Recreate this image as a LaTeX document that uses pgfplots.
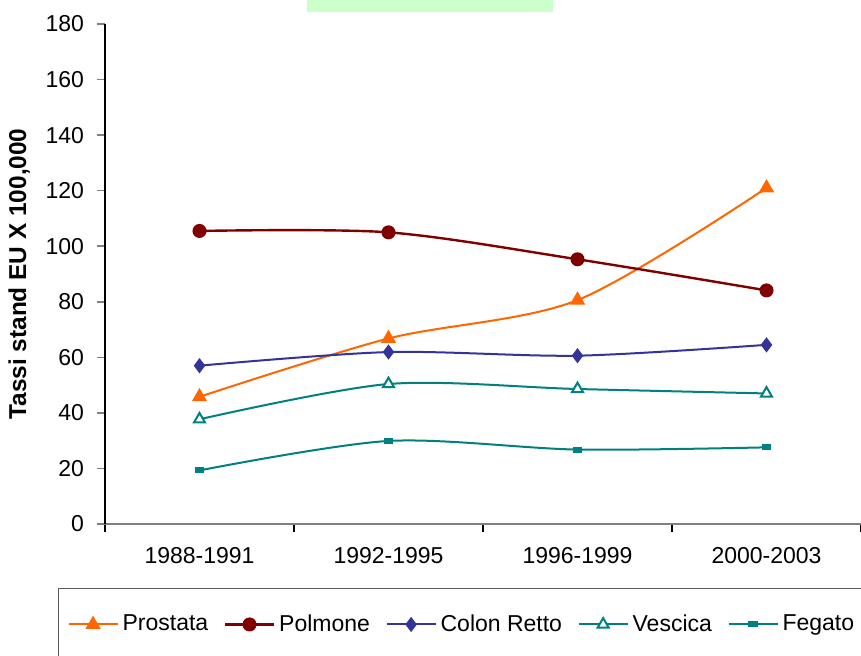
\documentclass[border=0pt]{standalone}
\usepackage{fontspec}
\setmainfont{Liberation Sans}
\usepackage{pgfplots}
\pgfplotsset{compat=1.18}

\definecolor{cProstata}{HTML}{FF6600}
\definecolor{cPolmone}{HTML}{800000}
\definecolor{cColon}{HTML}{333399}
\definecolor{cTeal}{HTML}{008080}
\definecolor{cGreen}{HTML}{CCFFCC}

\begin{document}
\begin{tikzpicture}
\begin{axis}[
    scale only axis,
    width=378pt, height=250pt,
    xmin=-0.5, xmax=3.5, ymin=0, ymax=180,
    axis x line=bottom, axis y line=left,
    axis line style={-},
    x axis line style={draw=gray, line width=1pt},
    y axis line style={draw=black, line width=0.6pt},
    xtick={-0.5,0.5,1.5,2.5,3.5},
    x tick label as interval,
    xticklabels={1988-1991,1992-1995,1996-1999,2000-2003},
    ytick={0,20,...,180},
    tick align=outside, major tick length=4pt,
    xtick style={draw=black, line width=0.6pt},
    ytick style={draw=gray, line width=0.8pt},
    every tick label/.append style={font=\fontsize{11.5}{13}\selectfont},
    /pgf/number format/assume math mode=true,
    xticklabel style={yshift=-4pt},
    yticklabel style={xshift=-3pt},
    ylabel={Tassi stand EU X 100,000},
    ylabel style={font=\fontsize{12.2}{14}\selectfont\bfseries, yshift=1pt},
    clip=false,
    legend columns=5,
    legend style={at={(-0.0622,-0.128)}, anchor=north west,
        draw=gray!70!black, line width=0.6pt,
        inner xsep=4.5pt, inner ysep=11pt,
        font=\fontsize{11.5}{13}\selectfont,
        /tikz/every even column/.append style={column sep=5.8pt}},
    legend cell align=left,
    legend image code/.code={\draw[mark repeat=2,mark phase=2] plot coordinates {(0pt,0pt) (12.25pt,0pt) (24.5pt,0pt)};},
    every axis plot/.append style={smooth, line width=1pt},
]
\fill[cGreen] ([yshift=6pt]rel axis cs:0.267,1) rectangle ([yshift=16pt]rel axis cs:0.5926,1);

\addplot[color=cProstata, mark=triangle*, mark size=3.4pt, mark options={solid}] coordinates {
    (0,45.8) (1,66.8) (2,80.6) (3,121.0)
};
\addlegendentry{Prostata}
\addplot[color=cPolmone, line width=1.2pt, mark=*, mark size=2.9pt] coordinates {
    (0,105.5) (1,105.0) (2,95.3) (3,84.1)
};
\addlegendentry{Polmone}
\addplot[color=cColon, mark=diamond*, mark size=3pt] coordinates {
    (0,57.0) (1,61.9) (2,60.6) (3,64.5)
};
\addlegendentry{Colon Retto}
\addplot[color=cTeal, mark=triangle*, mark size=3.2pt, mark options={fill=white, line width=1pt}] coordinates {
    (0,37.7) (1,50.4) (2,48.6) (3,47.0)
};
\addlegendentry{Vescica}
\addplot[color=cTeal, mark=square*, mark size=1.1pt, mark options={xscale=1.8, yscale=0.9}] coordinates {
    (0,19.3) (1,29.9) (2,26.8) (3,27.6)
};
\addlegendentry{Fegato}

\coordinate (bl) at (rel axis cs:0,0);
\coordinate (tr) at (rel axis cs:1,1);
\end{axis}
\pgfresetboundingbox
\path[use as bounding box] ([xshift=-52.5pt,yshift=-65.5pt]bl) rectangle ([yshift=12pt]tr);
\end{tikzpicture}
\end{document}
